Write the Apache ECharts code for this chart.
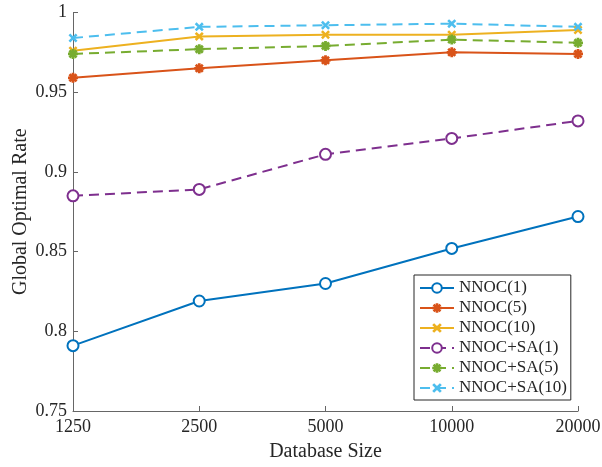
<!DOCTYPE html>
<html>
<head>
<meta charset="utf-8">
<script src="https://cdn.jsdelivr.net/npm/echarts@6/dist/echarts.min.js"></script>
<style>html,body{margin:0;padding:0;background:#fff;}#c{width:602px;height:467px;}</style>
</head>
<body>
<div id="c"></div>
<script>
const categories = ['1250', '2500', '5000', '10000', '20000'];
const seriesNames = ['NNOC(1)', 'NNOC(5)', 'NNOC(10)', 'NNOC+SA(1)', 'NNOC+SA(5)', 'NNOC+SA(10)'];
const nnoc1 = [0.791, 0.819, 0.830, 0.852, 0.872];
const nnoc5 = [0.959, 0.965, 0.970, 0.975, 0.974];
const nnoc10 = [0.976, 0.985, 0.986, 0.986, 0.989];
const sa1 = [0.885, 0.889, 0.911, 0.921, 0.932];
const sa5 = [0.974, 0.977, 0.979, 0.983, 0.981];
const sa10 = [0.984, 0.991, 0.992, 0.993, 0.991];
const yTicks = ['0.75', '0.8', '0.85', '0.9', '0.95', '1'];

const colors = ['#0072BD', '#D95319', '#EDB120', '#7E2F8E', '#77AC30', '#4DBEEE'];
const xPath = 'path://M0,0.2 L0.2,0 L0.5,0.3 L0.8,0 L1,0.2 L0.7,0.5 L1,0.8 L0.8,1 L0.5,0.7 L0.2,1 L0,0.8 L0.3,0.5 Z';
const starPath = 'path://M0.36,0 L0.64,0 L0.64,1 L0.36,1 Z M0,0.36 L1,0.36 L1,0.64 L0,0.64 Z M0.05,0.24 L0.24,0.05 L0.5,0.31 L0.76,0.05 L0.95,0.24 L0.69,0.5 L0.95,0.76 L0.76,0.95 L0.5,0.69 L0.24,0.95 L0.05,0.76 L0.31,0.5 Z';
const data = [nnoc1, nnoc5, nnoc10, sa1, sa5, sa10];
const symbols = ['emptyCircle', starPath, xPath, 'emptyCircle', starPath, xPath];
const symSizes = [11, 10, 9, 11, 10, 9];
const dashed = [false, false, false, true, true, true];

const font = 'Liberation Serif';
const textColor = '#262626';
const axisColor = '#666';

const series = seriesNames.map((n, i) => ({
  name: n,
  type: 'line',
  data: data[i],
  symbol: symbols[i],
  symbolSize: symSizes[i],
  showAllSymbol: true,
  lineStyle: { color: colors[i], width: 2, type: dashed[i] ? [10, 6] : 'solid' },
  itemStyle: { color: colors[i], borderColor: colors[i], borderWidth: symbols[i] === 'emptyCircle' ? 2 : 0 },
  emphasis: { disabled: true },
  animation: false
}));

const chart = echarts.init(document.getElementById('c'), null, { renderer: 'canvas' });
chart.setOption({
  animation: false,
  backgroundColor: '#fff',
  grid: { left: 73, right: 24, top: 12.5, bottom: 56, containLabel: false, outerBoundsMode: 'none' },
  xAxis: {
    type: 'category',
    data: categories,
    boundaryGap: false,
    name: 'Database Size',
    nameLocation: 'middle',
    nameGap: 31,
    nameMoveOverlap: false,
    nameTextStyle: { fontFamily: font, fontSize: 20, color: textColor },
    axisLine: { show: true, lineStyle: { color: axisColor, width: 1 } },
    axisTick: { show: true, inside: true, length: 5, lineStyle: { color: axisColor } },
    axisLabel: { fontFamily: font, fontSize: 18, color: textColor, margin: 7 },
    splitLine: { show: false }
  },
  yAxis: {
    type: 'value',
    min: 0.75,
    max: 1,
    interval: 0.05,
    name: 'Global Optimal Rate',
    nameLocation: 'middle',
    nameGap: 42,
    nameMoveOverlap: false,
    nameTextStyle: { fontFamily: font, fontSize: 20, color: textColor },
    axisLine: { show: true, lineStyle: { color: axisColor, width: 1 } },
    axisTick: { show: true, inside: true, length: 5, lineStyle: { color: axisColor } },
    axisLabel: {
      fontFamily: font, fontSize: 18, color: textColor, margin: 6,
      formatter: v => parseFloat(v.toFixed(2)).toString()
    },
    splitLine: { show: false }
  },
  legend: {
    orient: 'vertical',
    left: 414,
    top: 275,
    padding: [3, 4, 2, 5],
    itemWidth: 34,
    itemHeight: 12,
    itemGap: 0,
    borderColor: '#262626',
    borderWidth: 1,
    backgroundColor: '#fff',
    selectedMode: false,
    textStyle: { fontFamily: font, fontSize: 17, color: textColor, lineHeight: 20 },
    data: seriesNames
  },
  series: series
});
</script>
</body>
</html>
